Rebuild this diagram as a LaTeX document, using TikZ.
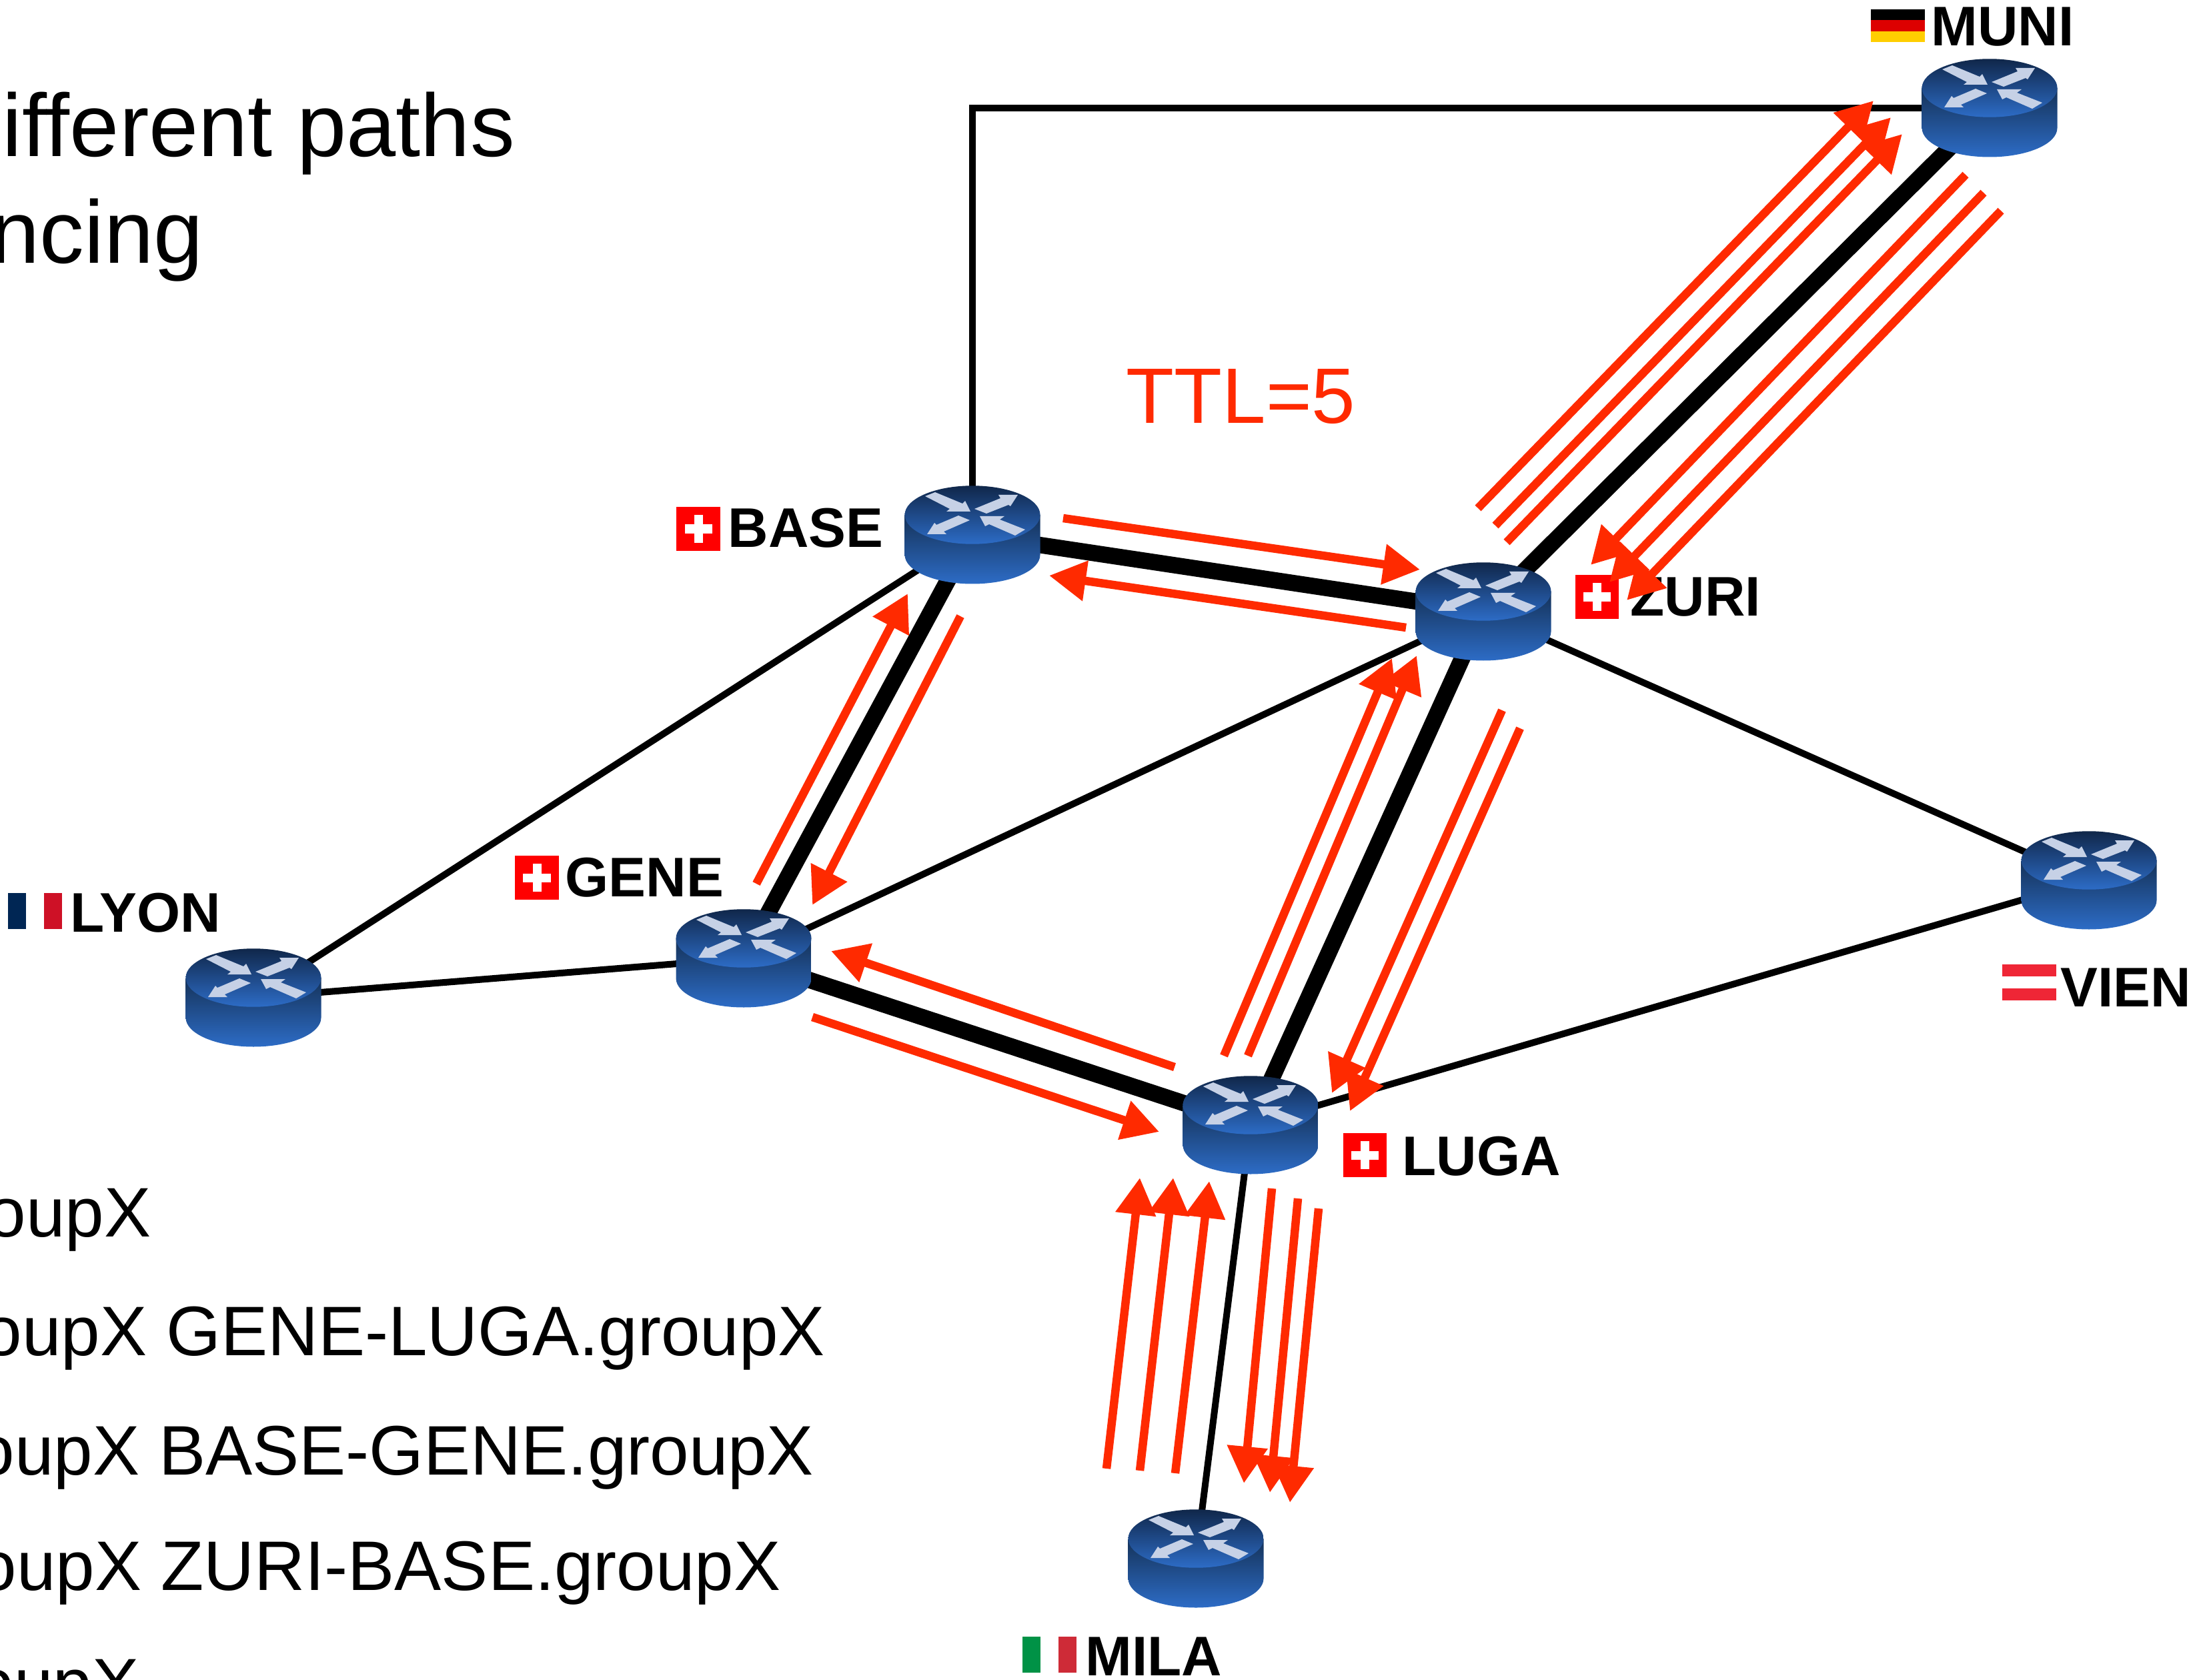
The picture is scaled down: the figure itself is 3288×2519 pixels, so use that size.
\documentclass[tikz,border=0pt]{standalone}
\usepackage{fontspec}
\setmainfont{Liberation Sans}
\usetikzlibrary{arrows.meta}

\definecolor{pktred}{HTML}{FF2A00}
\definecolor{rtdark}{HTML}{10274A}
\definecolor{rtside}{HTML}{153258}
\definecolor{rtlight}{HTML}{2D6CC6}
\definecolor{rtarrow}{HTML}{C6D1E6}
\definecolor{swissred}{HTML}{FF0000}
\definecolor{degold}{HTML}{FFCE00}
\definecolor{dered}{HTML}{DD0000}
\definecolor{frblue}{HTML}{002654}
\definecolor{frred}{HTML}{CE1126}
\definecolor{atred}{HTML}{EF2636}
\definecolor{itgreen}{HTML}{009246}
\definecolor{itred}{HTML}{CE2B37}

\tikzset{
  thinlink/.style={line width=.1cm},
  thicklink/.style={line width=.245cm},
  pkt/.style={draw=pktred, line width=.125cm, -{Triangle[length=.55cm,width=.58cm]}, pktred},
  city/.style={anchor=base west, inner sep=0pt, font=\fontsize{23.8}{26}\selectfont\bfseries},
  slidetext/.style={anchor=base west, inner sep=0pt, font=\fontsize{29.9}{32}\selectfont},
  bigtext/.style={anchor=base west, inner sep=0pt, font=\fontsize{37.9}{40}\selectfont},
  swiss/.style={fill=swissred, inner sep=0pt, minimum size=.65cm, path picture={
      \fill[white] (path picture bounding box.center) ++(-.205cm,-.065cm) rectangle ++(.41cm,.13cm);
      \fill[white] (path picture bounding box.center) ++(-.065cm,-.205cm) rectangle ++(.13cm,.41cm);
    }},
  pics/router/.style={code={
      \shade[top color=rtside, bottom color=rtlight] (-101.5,-30) -- (-101.5,30)
        .. controls (-101.5,54) and (-56,73.5) .. (0,73.5)
        .. controls (56,73.5) and (101.5,54) .. (101.5,30) -- (101.5,-30) -- cycle;
      \shade[top color=rtdark, bottom color=rtlight] (0,-30) ellipse [x radius=1.015cm, y radius=.437cm];
      \begin{scope}[shift={(0,-30)}]
        \fill[rtarrow] (-71,-28) -- (-56,-34) -- (-15,-17) -- (-11,-21) -- (-3,-5) -- (-39,-5) -- (-34,-9) -- cycle;
        \fill[rtarrow] (3,-9) -- (21,-2) -- (54,-15) -- (57,-13) -- (68,-30) -- (39,-30) -- (42,-25) -- cycle;
        \fill[rtarrow] (-4,8) -- (-21,1) -- (-54,15) -- (-57,12) -- (-68,29) -- (-39,29) -- (-43,25) -- cycle;
        \fill[rtarrow] (79,22) -- (64,31) -- (25,14) -- (19,17) -- (11,2) -- (48,2) -- (41,7) -- cycle;
      \end{scope}
    }}
}

\begin{document}
\begin{tikzpicture}[x=.01cm, y=-.01cm]
    \useasboundingbox (0,0) rectangle (3288,2519);

    \coordinate (muni) at (2983,162);
    \coordinate (base) at (1458,802);
    \coordinate (zuri) at (2224,917);
    \coordinate (gene) at (1115,1437);
    \coordinate (lyon) at (380,1496);
    \coordinate (vien) at (3132,1320);
    \coordinate (luga) at (1875,1687);
    \coordinate (mila) at (1793,2337);

    % links
    \draw[thinlink] (base) |- (muni);
    \path[draw, thinlink]
        (base) -- (lyon)
        (lyon) -- (gene)
        (gene) -- (zuri)
        (zuri) -- (vien)
        (vien) -- (luga)
        (luga) -- (mila);
    \path[draw, thicklink]
        (base) -- (zuri)
        (muni) -- (zuri)
        (zuri) -- (luga)
        (luga) -- (gene)
        (gene) -- (base);

    \foreach \r in {muni,base,zuri,gene,lyon,vien,luga,mila}
        \pic at (\r) {router};

    % labels and flags
    \node[swiss] (baseflag) at (1047,793) {};
    \node[swiss] (zuriflag) at (2394,895) {};
    \node[swiss] (geneflag) at (805,1316) {};
    \node[swiss] (lugaflag) at (2046,1732) {};
    \fill[black] (2805,14) rectangle (2886,30);
    \fill[dered] (2805,30) rectangle (2886,47);
    \fill[degold] (2805,47) rectangle (2886,63);
    \fill[frblue] (12,1339) rectangle (39,1393);
    \fill[frred] (66,1339) rectangle (93,1393);
    \fill[atred] (3002,1446) rectangle (3083,1464);
    \fill[atred] (3002,1482) rectangle (3083,1500);
    \fill[itgreen] (1533,2454) rectangle (1560,2508);
    \fill[itred] (1587,2454) rectangle (1614,2508);

    \node[city] (munilabel) at (2895,69) {MUNI};
    \node[city] (baselabel) at (1091,821) {BASE};
    \node[city] (zurilabel) at (2444,924) {ZURI};
    \node[city] (genelabel) at (847,1344) {GENE};
    \node[city] (lyonlabel) at (105,1397) {LYON};
    \node[city] (vienlabel) at (3089,1509) {VIEN};
    \node[city] (lugalabel) at (2102,1762) {LUGA};
    \node[city] (milalabel) at (1627,2512) {MILA};

    % packets
    \foreach \tx/\ty/\hx/\hy [count=\i] in {
        1594/777/2129/854, 2108/941/1573/863,
        1440/924/1218/1357, 1134/1325/1361/890,
        1218/1525/1738/1697, 1761/1600/1246/1426,
        1835/1583/2087/987, 1871/1583/2124/983,
        2252/1065/1997/1639, 2279/1092/2024/1666,
        2216/762/2809/151, 2242/788/2835/176, 2259/813/2852/201,
        2947/262/2385/847, 2974/289/2413/873, 3000/316/2439/900,
        1659/2202/1709/1766, 1709/2205/1759/1766, 1762/2209/1813/1771,
        1907/1782/1865/2224, 1946/1797/1904/2238, 1977/1812/1934/2253} {
        \coordinate (tail\i) at (\tx,\ty);
        \coordinate (head\i) at (\hx,\hy);
        \draw[pkt] (tail\i) -- (head\i);
    }

    \node[anchor=base west, inner sep=0pt, pktred, font=\fontsize{33.5}{36}\selectfont] (ttl) at (1688,635) {TTL=5};

    \node[bigtext] (lineone) at (3,235) {ifferent paths};
    \node[bigtext] (linetwo) at (-15,395) {ncing};
    \node[slidetext] (cmdone) at (-20,1854) {oupX};
    \node[slidetext] (cmdtwo) at (-26,2032) {oupX GENE-LUGA.groupX};
    \node[slidetext] (cmdthree) at (-37,2211) {oupX BASE-GENE.groupX};
    \node[slidetext] (cmdfour) at (-34,2384) {oupX ZURI-BASE.groupX};
    \node[slidetext] (cmdfive) at (-38,2560) {oupX};
\end{tikzpicture}
\end{document}
